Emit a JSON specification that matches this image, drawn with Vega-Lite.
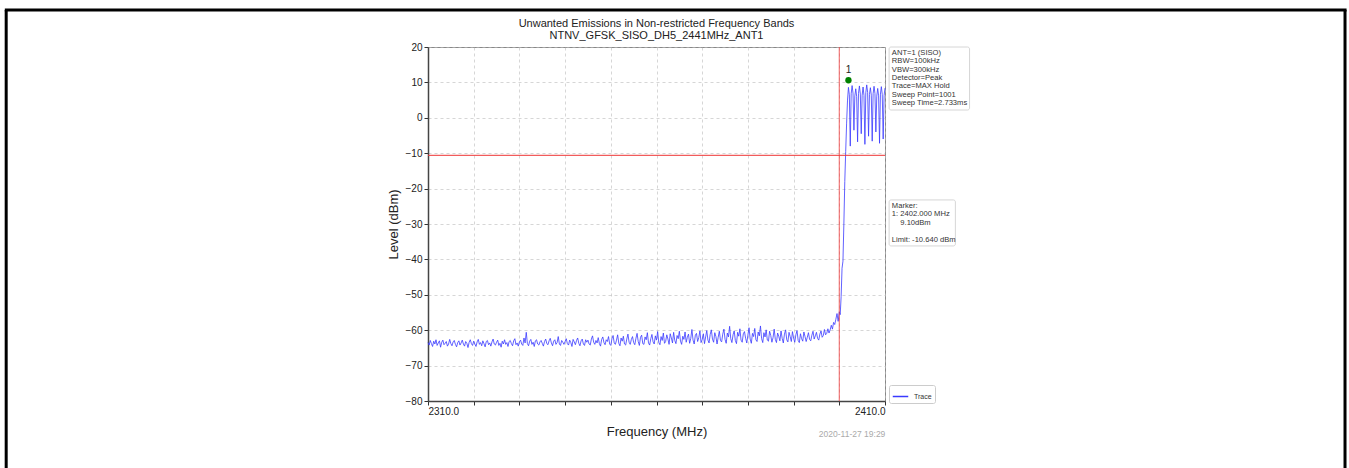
{
  "$schema": "https://vega.github.io/schema/vega-lite/v6.json",
  "autosize": {"type": "none"},
  "padding": {"left": 428, "top": 47, "right": 464, "bottom": 67},
  "width": 457,
  "height": 354,
  "background": "white",
  "config": {
    "font": "Liberation Sans",
    "view": {"stroke": "#888888", "strokeWidth": 1},
    "axis": {
      "labelOverlap": false, "labelSeparation": 0, "labelFontSize": 10, "labelColor": "#222222",
      "titleFontSize": 13, "titleFontWeight": "normal", "titleColor": "#222222",
      "tickSize": 4, "tickColor": "#333333", "tickWidth": 1,
      "domainColor": "#444444", "domainWidth": 1.5,
      "grid": true, "gridColor": "#bbbbbb", "gridDash": [3, 3], "gridWidth": 0.6
    },
    "axisX": {"labelPadding": 1, "titlePadding": 9},
    "axisY": {"labelPadding": 2, "titlePadding": 5, "labelOverlap": false},
    "legend": {
      "orient": "none", "legendX": 461, "legendY": 338,
      "strokeColor": "#cccccc", "fillColor": "white", "padding": 3, "cornerRadius": 2,
      "labelFontSize": 7, "labelColor": "#333333", "symbolStrokeWidth": 1.5, "symbolSize": 240, "labelOffset": 5
    }
  },
  "title": {
    "text": ["Unwanted Emissions in Non-restricted Frequency Bands", "NTNV_GFSK_SISO_DH5_2441MHz_ANT1"],
    "fontSize": 11, "fontWeight": "normal", "color": "#222222", "anchor": "middle", "frame": "group",
    "offset": -32, "lineHeight": 12
  },
  "data": {"values": [{}]},
  "layer": [
    {
      "mark": {"type": "line", "strokeWidth": 0.8, "clip": false},
      "data": {"values": [
        {"f":2310.00,"l":-63.5},{"f":2310.25,"l":-64.2},{"f":2310.50,"l":-62.9},{"f":2310.75,"l":-63.8},{"f":2311.00,"l":-64.6},{"f":2311.25,"l":-63.1},{"f":2311.50,"l":-63.9},{"f":2311.75,"l":-62.7},{"f":2312.00,"l":-64.3},{"f":2312.25,"l":-63.6},{"f":2312.50,"l":-63.0},{"f":2312.75,"l":-64.8},{"f":2313.00,"l":-63.4},{"f":2313.25,"l":-62.8},{"f":2313.50,"l":-64.1},{"f":2313.75,"l":-63.7},{"f":2314.00,"l":-63.2},{"f":2314.25,"l":-64.5},{"f":2314.50,"l":-63.9},{"f":2314.75,"l":-62.6},
        {"f":2315.00,"l":-63.8},{"f":2315.25,"l":-64.4},{"f":2315.50,"l":-63.3},{"f":2315.75,"l":-62.9},{"f":2316.00,"l":-64.0},{"f":2316.25,"l":-64.7},{"f":2316.50,"l":-63.5},{"f":2316.75,"l":-63.0},{"f":2317.00,"l":-64.2},{"f":2317.25,"l":-63.6},{"f":2317.50,"l":-62.8},{"f":2317.75,"l":-63.9},{"f":2318.00,"l":-64.5},{"f":2318.25,"l":-63.2},{"f":2318.50,"l":-63.7},{"f":2318.75,"l":-64.9},{"f":2319.00,"l":-63.4},{"f":2319.25,"l":-62.7},{"f":2319.50,"l":-63.8},{"f":2319.75,"l":-64.3},
        {"f":2320.00,"l":-63.1},{"f":2320.25,"l":-63.9},{"f":2320.50,"l":-64.6},{"f":2320.75,"l":-63.3},{"f":2321.00,"l":-62.6},{"f":2321.25,"l":-64.0},{"f":2321.50,"l":-63.5},{"f":2321.75,"l":-64.4},{"f":2322.00,"l":-63.0},{"f":2322.25,"l":-63.8},{"f":2322.50,"l":-64.7},{"f":2322.75,"l":-63.2},{"f":2323.00,"l":-62.9},{"f":2323.25,"l":-64.1},{"f":2323.50,"l":-63.6},{"f":2323.75,"l":-64.5},{"f":2324.00,"l":-63.3},{"f":2324.25,"l":-62.5},{"f":2324.50,"l":-63.9},{"f":2324.75,"l":-64.2},
        {"f":2325.00,"l":-63.4},{"f":2325.25,"l":-62.8},{"f":2325.50,"l":-64.3},{"f":2325.75,"l":-63.7},{"f":2326.00,"l":-64.8},{"f":2326.25,"l":-63.1},{"f":2326.50,"l":-63.9},{"f":2326.75,"l":-62.7},{"f":2327.00,"l":-64.0},{"f":2327.25,"l":-63.5},{"f":2327.50,"l":-64.6},{"f":2327.75,"l":-63.2},{"f":2328.00,"l":-62.9},{"f":2328.25,"l":-63.8},{"f":2328.50,"l":-64.4},{"f":2328.75,"l":-63.0},{"f":2329.00,"l":-62.4},{"f":2329.25,"l":-64.1},{"f":2329.50,"l":-63.6},{"f":2329.75,"l":-64.5},
        {"f":2330.00,"l":-63.3},{"f":2330.25,"l":-62.8},{"f":2330.50,"l":-63.9},{"f":2330.75,"l":-64.3},{"f":2331.00,"l":-62.2},{"f":2331.25,"l":-63.6},{"f":2331.50,"l":-60.6},{"f":2331.75,"l":-63.8},{"f":2332.00,"l":-64.4},{"f":2332.25,"l":-63.1},{"f":2332.50,"l":-62.6},{"f":2332.75,"l":-64.0},{"f":2333.00,"l":-63.4},{"f":2333.25,"l":-64.6},{"f":2333.50,"l":-63.0},{"f":2333.75,"l":-62.7},{"f":2334.00,"l":-63.9},{"f":2334.25,"l":-64.2},{"f":2334.50,"l":-63.3},{"f":2334.75,"l":-62.9},
        {"f":2335.00,"l":-63.7},{"f":2335.25,"l":-64.5},{"f":2335.50,"l":-63.2},{"f":2335.75,"l":-62.5},{"f":2336.00,"l":-63.8},{"f":2336.25,"l":-64.1},{"f":2336.50,"l":-63.0},{"f":2336.75,"l":-62.3},{"f":2337.00,"l":-63.6},{"f":2337.25,"l":-64.4},{"f":2337.50,"l":-63.1},{"f":2337.75,"l":-62.7},{"f":2338.00,"l":-64.0},{"f":2338.25,"l":-63.5},{"f":2338.50,"l":-61.8},{"f":2338.75,"l":-63.9},{"f":2339.00,"l":-64.3},{"f":2339.25,"l":-62.9},{"f":2339.50,"l":-63.4},{"f":2339.75,"l":-64.0},
        {"f":2340.00,"l":-63.2},{"f":2340.25,"l":-62.4},{"f":2340.50,"l":-63.8},{"f":2340.75,"l":-64.2},{"f":2341.00,"l":-62.8},{"f":2341.25,"l":-63.5},{"f":2341.50,"l":-64.6},{"f":2341.75,"l":-62.6},{"f":2342.00,"l":-63.3},{"f":2342.25,"l":-64.1},{"f":2342.50,"l":-62.9},{"f":2342.75,"l":-62.2},{"f":2343.00,"l":-63.7},{"f":2343.25,"l":-64.4},{"f":2343.50,"l":-63.0},{"f":2343.75,"l":-62.5},{"f":2344.00,"l":-63.9},{"f":2344.25,"l":-64.3},{"f":2344.50,"l":-62.7},{"f":2344.75,"l":-63.4},
        {"f":2345.00,"l":-62.8},{"f":2345.25,"l":-63.9},{"f":2345.50,"l":-64.2},{"f":2345.75,"l":-62.5},{"f":2346.00,"l":-61.6},{"f":2346.25,"l":-63.4},{"f":2346.50,"l":-64.0},{"f":2346.75,"l":-62.9},{"f":2347.00,"l":-63.6},{"f":2347.25,"l":-62.1},{"f":2347.50,"l":-63.8},{"f":2347.75,"l":-64.5},{"f":2348.00,"l":-62.6},{"f":2348.25,"l":-61.9},{"f":2348.50,"l":-63.5},{"f":2348.75,"l":-64.1},{"f":2349.00,"l":-62.7},{"f":2349.25,"l":-63.2},{"f":2349.50,"l":-61.8},{"f":2349.75,"l":-63.9},
        {"f":2350.00,"l":-64.3},{"f":2350.25,"l":-62.4},{"f":2350.50,"l":-61.5},{"f":2350.75,"l":-63.6},{"f":2351.00,"l":-64.0},{"f":2351.25,"l":-62.8},{"f":2351.50,"l":-61.3},{"f":2351.75,"l":-63.7},{"f":2352.00,"l":-64.4},{"f":2352.25,"l":-62.2},{"f":2352.50,"l":-63.1},{"f":2352.75,"l":-61.7},{"f":2353.00,"l":-63.9},{"f":2353.25,"l":-64.2},{"f":2353.50,"l":-62.5},{"f":2353.75,"l":-61.1},{"f":2354.00,"l":-63.4},{"f":2354.25,"l":-64.0},{"f":2354.50,"l":-62.6},{"f":2354.75,"l":-61.8},
        {"f":2355.00,"l":-63.5},{"f":2355.25,"l":-64.1},{"f":2355.50,"l":-62.3},{"f":2355.75,"l":-60.9},{"f":2356.00,"l":-63.2},{"f":2356.25,"l":-64.3},{"f":2356.50,"l":-62.0},{"f":2356.75,"l":-61.4},{"f":2357.00,"l":-63.8},{"f":2357.25,"l":-64.0},{"f":2357.50,"l":-61.9},{"f":2357.75,"l":-62.7},{"f":2358.00,"l":-60.7},{"f":2358.25,"l":-63.6},{"f":2358.50,"l":-64.2},{"f":2358.75,"l":-62.4},{"f":2359.00,"l":-61.2},{"f":2359.25,"l":-63.3},{"f":2359.50,"l":-63.9},{"f":2359.75,"l":-61.6},
        {"f":2360.00,"l":-62.8},{"f":2360.25,"l":-60.4},{"f":2360.50,"l":-63.5},{"f":2360.75,"l":-64.1},{"f":2361.00,"l":-61.8},{"f":2361.25,"l":-62.9},{"f":2361.50,"l":-60.8},{"f":2361.75,"l":-63.7},{"f":2362.00,"l":-63.2},{"f":2362.25,"l":-61.3},{"f":2362.50,"l":-62.5},{"f":2362.75,"l":-64.0},{"f":2363.00,"l":-61.0},{"f":2363.25,"l":-62.2},{"f":2363.50,"l":-63.6},{"f":2363.75,"l":-60.6},{"f":2364.00,"l":-62.9},{"f":2364.25,"l":-63.8},{"f":2364.50,"l":-61.5},{"f":2364.75,"l":-62.4},
        {"f":2365.00,"l":-60.3},{"f":2365.25,"l":-63.1},{"f":2365.50,"l":-64.0},{"f":2365.75,"l":-61.7},{"f":2366.00,"l":-62.6},{"f":2366.25,"l":-60.5},{"f":2366.50,"l":-63.4},{"f":2366.75,"l":-62.0},{"f":2367.00,"l":-61.1},{"f":2367.25,"l":-63.7},{"f":2367.50,"l":-62.3},{"f":2367.75,"l":-59.8},{"f":2368.00,"l":-62.8},{"f":2368.25,"l":-63.9},{"f":2368.50,"l":-61.4},{"f":2368.75,"l":-60.9},{"f":2369.00,"l":-63.2},{"f":2369.25,"l":-62.1},{"f":2369.50,"l":-60.2},{"f":2369.75,"l":-63.5},
        {"f":2370.00,"l":-62.7},{"f":2370.25,"l":-61.0},{"f":2370.50,"l":-63.8},{"f":2370.75,"l":-61.9},{"f":2371.00,"l":-60.1},{"f":2371.25,"l":-62.8},{"f":2371.50,"l":-63.6},{"f":2371.75,"l":-61.2},{"f":2372.00,"l":-59.9},{"f":2372.25,"l":-62.5},{"f":2372.50,"l":-63.4},{"f":2372.75,"l":-60.7},{"f":2373.00,"l":-61.8},{"f":2373.25,"l":-63.9},{"f":2373.50,"l":-62.0},{"f":2373.75,"l":-60.3},{"f":2374.00,"l":-62.9},{"f":2374.25,"l":-63.3},{"f":2374.50,"l":-61.1},{"f":2374.75,"l":-59.7},
        {"f":2375.00,"l":-62.6},{"f":2375.25,"l":-63.7},{"f":2375.50,"l":-60.8},{"f":2375.75,"l":-61.9},{"f":2376.00,"l":-58.9},{"f":2376.25,"l":-62.4},{"f":2376.50,"l":-63.5},{"f":2376.75,"l":-61.3},{"f":2377.00,"l":-60.2},{"f":2377.25,"l":-62.9},{"f":2377.50,"l":-63.8},{"f":2377.75,"l":-60.6},{"f":2378.00,"l":-61.7},{"f":2378.25,"l":-59.6},{"f":2378.50,"l":-62.8},{"f":2378.75,"l":-63.4},{"f":2379.00,"l":-61.0},{"f":2379.25,"l":-60.4},{"f":2379.50,"l":-62.3},{"f":2379.75,"l":-63.6},
        {"f":2380.00,"l":-61.4},{"f":2380.25,"l":-59.3},{"f":2380.50,"l":-62.5},{"f":2380.75,"l":-63.7},{"f":2381.00,"l":-60.9},{"f":2381.25,"l":-61.8},{"f":2381.50,"l":-59.5},{"f":2381.75,"l":-62.7},{"f":2382.00,"l":-63.2},{"f":2382.25,"l":-60.5},{"f":2382.50,"l":-61.6},{"f":2382.75,"l":-58.8},{"f":2383.00,"l":-62.4},{"f":2383.25,"l":-63.5},{"f":2383.50,"l":-60.7},{"f":2383.75,"l":-61.9},{"f":2384.00,"l":-59.9},{"f":2384.25,"l":-62.8},{"f":2384.50,"l":-63.1},{"f":2384.75,"l":-60.3},
        {"f":2385.00,"l":-61.5},{"f":2385.25,"l":-63.4},{"f":2385.50,"l":-62.1},{"f":2385.75,"l":-59.7},{"f":2386.00,"l":-62.6},{"f":2386.25,"l":-63.5},{"f":2386.50,"l":-60.8},{"f":2386.75,"l":-61.7},{"f":2387.00,"l":-63.0},{"f":2387.25,"l":-60.2},{"f":2387.50,"l":-62.3},{"f":2387.75,"l":-63.6},{"f":2388.00,"l":-61.1},{"f":2388.25,"l":-59.9},{"f":2388.50,"l":-62.7},{"f":2388.75,"l":-63.3},{"f":2389.00,"l":-60.6},{"f":2389.25,"l":-61.8},{"f":2389.50,"l":-63.2},{"f":2389.75,"l":-60.4},
        {"f":2390.00,"l":-62.2},{"f":2390.25,"l":-63.4},{"f":2390.50,"l":-61.3},{"f":2390.75,"l":-60.1},{"f":2391.00,"l":-62.9},{"f":2391.25,"l":-63.5},{"f":2391.50,"l":-61.0},{"f":2391.75,"l":-62.4},{"f":2392.00,"l":-63.1},{"f":2392.25,"l":-60.5},{"f":2392.50,"l":-61.8},{"f":2392.75,"l":-63.2},{"f":2393.00,"l":-62.0},{"f":2393.25,"l":-60.7},{"f":2393.50,"l":-62.6},{"f":2393.75,"l":-63.0},{"f":2394.00,"l":-61.4},{"f":2394.25,"l":-60.3},{"f":2394.50,"l":-62.5},{"f":2394.75,"l":-61.6},
        {"f":2395.00,"l":-60.6},{"f":2395.25,"l":-62.3},{"f":2395.50,"l":-62.8},{"f":2395.75,"l":-61.1},{"f":2396.00,"l":-60.2},{"f":2396.25,"l":-62.0},{"f":2396.50,"l":-61.5},{"f":2396.75,"l":-59.8},{"f":2397.00,"l":-61.3},{"f":2397.25,"l":-60.9},{"f":2397.50,"l":-59.6},{"f":2397.75,"l":-60.8},{"f":2398.00,"l":-59.9},{"f":2398.25,"l":-58.6},{"f":2398.50,"l":-59.7},{"f":2398.75,"l":-57.8},{"f":2399.00,"l":-58.4},{"f":2399.25,"l":-56.9},{"f":2399.50,"l":-55.3},{"f":2399.75,"l":-57.5},
        {"f":2400.0,"l":-54.8},{"f":2400.2,"l":-55.6},{"f":2400.4,"l":-50.5},{"f":2400.6,"l":-42.5},{"f":2400.8,"l":-40.5},{"f":2401.0,"l":-30.0},{"f":2401.2,"l":-18.0},{"f":2401.4,"l":-9.5},{"f":2401.6,"l":-1.5},{"f":2401.8,"l":5.0},
        {"f":2402.0,"l":8.6},{"f":2402.2,"l":6.5},{"f":2402.4,"l":-8.0},{"f":2402.6,"l":6.8},{"f":2402.8,"l":9.1},{"f":2403.0,"l":7.0},{"f":2403.2,"l":-3.5},{"f":2403.4,"l":6.2},{"f":2403.6,"l":8.2},{"f":2403.8,"l":6.0},
        {"f":2404.0,"l":-6.8},{"f":2404.2,"l":6.9},{"f":2404.4,"l":9.0},{"f":2404.6,"l":6.7},{"f":2404.8,"l":-4.5},{"f":2405.0,"l":6.4},{"f":2405.2,"l":8.7},{"f":2405.4,"l":6.3},{"f":2405.6,"l":-7.5},{"f":2405.8,"l":7.1},
        {"f":2406.0,"l":9.3},{"f":2406.2,"l":7.2},{"f":2406.4,"l":-5.2},{"f":2406.6,"l":6.6},{"f":2406.8,"l":8.5},{"f":2407.0,"l":6.4},{"f":2407.2,"l":-6.6},{"f":2407.4,"l":6.8},{"f":2407.6,"l":8.9},{"f":2407.8,"l":6.9},
        {"f":2408.0,"l":-4.0},{"f":2408.2,"l":6.1},{"f":2408.4,"l":8.3},{"f":2408.6,"l":6.2},{"f":2408.8,"l":-7.2},{"f":2409.0,"l":6.7},{"f":2409.2,"l":8.8},{"f":2409.4,"l":6.6},{"f":2409.6,"l":-6.0},{"f":2409.8,"l":6.3},
        {"f":2410.0,"l":8.4}
      ]},
      "encoding": {
        "x": {
          "field": "f", "type": "quantitative",
          "scale": {"domain": [2310, 2410], "nice": false, "zero": false},
          "axis": {
            "title": "Frequency (MHz)",
            "values": [2310, 2320, 2330, 2340, 2350, 2360, 2370, 2380, 2390, 2400, 2410],
            "labelExpr": "datum.value == 2310 || datum.value == 2410 ? format(datum.value, '.1f') : ''"
          }
        },
        "y": {
          "field": "l", "type": "quantitative",
          "scale": {"domain": [-80, 20], "nice": false, "zero": false},
          "axis": {
            "title": "Level (dBm)",
            "tickCount": 10,
            "labelOverlap": false,
            "labelFlush": false
          }
        },
        "color": {"datum": "Trace", "type": "nominal", "scale": {"range": ["#3a3aff"]}, "legend": {"title": null}}
      }
    },
    {
      "mark": {"type": "rule", "color": "#ee3333", "strokeWidth": 1.2, "opacity": 0.8},
      "encoding": {"y": {"datum": -10.64, "type": "quantitative"}}
    },
    {
      "mark": {"type": "rule", "color": "#ee3333", "strokeWidth": 1.2, "opacity": 0.65},
      "encoding": {"x": {"datum": 2400, "type": "quantitative"}}
    },
    {
      "data": {"values": [{"f": 2402, "l": 10.6}]},
      "mark": {"type": "point", "filled": true, "color": "#008000", "size": 40, "opacity": 1},
      "encoding": {"x": {"field": "f", "type": "quantitative"}, "y": {"field": "l", "type": "quantitative"}}
    },
    {
      "data": {"values": [{"f": 2402, "l": 10.6}]},
      "mark": {"type": "text", "text": "1", "fontSize": 10, "color": "#222222", "dy": -10, "baseline": "middle"},
      "encoding": {"x": {"field": "f", "type": "quantitative"}, "y": {"field": "l", "type": "quantitative"}}
    },
    {
      "mark": {"type": "rect", "fill": "white", "stroke": "#cccccc", "strokeWidth": 0.8, "cornerRadius": 2, "clip": false},
      "encoding": {
        "x": {"datum": 2410.9, "type": "quantitative"}, "x2": {"datum": 2428.5},
        "y": {"datum": 20, "type": "quantitative"}, "y2": {"datum": 2.2}
      }
    },
    {
      "mark": {"type": "text", "align": "left", "baseline": "top", "fontSize": 7.6, "lineHeight": 8.4, "color": "#333333", "clip": false,
        "text": ["ANT=1 (SISO)", "RBW=100kHz", "VBW=300kHz", "Detector=Peak", "Trace=MAX Hold", "Sweep Point=1001", "Sweep Time=2.733ms"]},
      "encoding": {"x": {"datum": 2411.5, "type": "quantitative"}, "y": {"datum": 19.5, "type": "quantitative"}}
    },
    {
      "mark": {"type": "rect", "fill": "white", "stroke": "#cccccc", "strokeWidth": 0.8, "cornerRadius": 2, "clip": false},
      "encoding": {
        "x": {"datum": 2410.9, "type": "quantitative"}, "x2": {"datum": 2425.4},
        "y": {"datum": -23.2, "type": "quantitative"}, "y2": {"datum": -36.2}
      }
    },
    {
      "mark": {"type": "text", "align": "left", "baseline": "top", "fontSize": 7.6, "lineHeight": 8.5, "color": "#333333", "clip": false,
        "text": ["Marker:", "1: 2402.000 MHz", "\u200b\u00a0\u00a0\u00a0\u00a09.10dBm", "\u200b", "Limit: -10.640 dBm"]},
      "encoding": {"x": {"datum": 2411.5, "type": "quantitative"}, "y": {"datum": -23.7, "type": "quantitative"}}
    },
    {
      "mark": {"type": "text", "align": "center", "baseline": "middle", "fontSize": 8.5, "color": "#aaaaaa", "clip": false, "text": "2020-11-27 19:29"},
      "encoding": {"x": {"datum": 2402.8, "type": "quantitative"}, "y": {"datum": -89.3, "type": "quantitative"}}
    },
    {
      "mark": {"type": "rule", "color": "black", "strokeWidth": 3, "clip": false},
      "encoding": {"x": {"datum": 2217.7, "type": "quantitative"}, "y": {"datum": 30.45, "type": "quantitative"}, "y2": {"datum": -100}}
    },
    {
      "mark": {"type": "rule", "color": "black", "strokeWidth": 3, "clip": false},
      "encoding": {"x": {"datum": 2510.66, "type": "quantitative"}, "y": {"datum": 30.45, "type": "quantitative"}, "y2": {"datum": -100}}
    },
    {
      "mark": {"type": "rule", "color": "black", "strokeWidth": 3, "clip": false},
      "encoding": {"x": {"datum": 2217.4, "type": "quantitative"}, "x2": {"datum": 2511.0}, "y": {"datum": 30.45, "type": "quantitative"}}
    }
  ]
}
